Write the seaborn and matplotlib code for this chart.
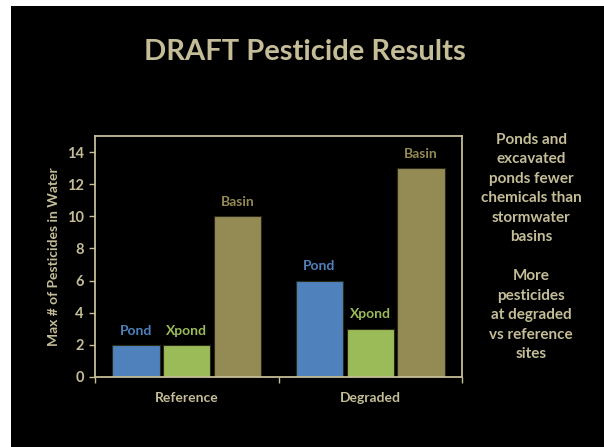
import matplotlib
matplotlib.use("Agg")
import matplotlib.pyplot as plt
import seaborn as sns
import pandas as pd
from matplotlib.patches import Rectangle

sites = ["Reference", "Degraded"]
types = ["Pond", "Xpond", "Basin"]
pond_vals = [2, 6]
xpond_vals = [2, 3]
basin_vals = [10, 13]
yticks = [0, 2, 4, 6, 8, 10, 12, 14]
title = "DRAFT Pesticide Results"
ylabel = "Max # of Pesticides in Water"
note = ("Ponds and\nexcavated\nponds fewer\nchemicals than\nstormwater\nbasins\n\n"
        "More\npesticides\nat degraded\nvs reference\nsites")

colors = {"Pond": "#4F81BD", "Xpond": "#9BBB59", "Basin": "#948A54"}
beige = "#C4BD97"

rows = []
for t, vals in zip(types, [pond_vals, xpond_vals, basin_vals]):
    for s, v in zip(sites, vals):
        rows.append({"site": s, "type": t, "count": v})
df = pd.DataFrame(rows)

sns.set_style("white")
plt.rcParams["font.family"] = ["Lato", "DejaVu Sans"]
plt.rcParams["font.weight"] = "bold"

fig = plt.figure(figsize=(6.04, 4.47), dpi=100)
fig.patch.set_facecolor("white")
fig.patches.append(Rectangle((11 / 604, 0), 1 - 11 / 604, 1 - 6 / 447,
                             transform=fig.transFigure, facecolor="black",
                             edgecolor="none", zorder=-10))

ax = fig.add_axes([95 / 604, 70 / 447, (462 - 95) / 604, (377 - 136) / 447])
ax.set_facecolor("black")

sns.barplot(data=df, x="site", y="count", hue="type", order=sites, hue_order=types,
            palette=colors, width=0.83, gap=0.07, ax=ax, legend=False,
            edgecolor="#2a2a1a", linewidth=0.8, saturation=1)

for cont, t in zip(ax.containers, types):
    ax.bar_label(cont, labels=[t] * len(cont), padding=6, color=colors[t],
                 fontsize=10, fontweight="bold")

ax.set_ylim(0, 15)
ax.set_xlim(-0.5, 1.5)
ax.set_yticks(yticks)
ax.set_yticklabels([str(v) for v in yticks])
ax.set_xticks([-0.5, 0.5, 1.5])
ax.set_xticklabels([])
ax.set_xticks([0, 1], minor=True)
ax.set_xticklabels(sites, minor=True)
ax.tick_params(axis="x", which="minor", length=0, pad=11, labelsize=10, labelcolor=beige)
ax.tick_params(axis="x", which="major", length=4, width=1, color=beige, direction="out", bottom=True)
ax.tick_params(axis="y", length=4, width=1, color=beige, direction="out", left=True,
               labelsize=10.5, labelcolor=beige, pad=4)
for lab in ax.get_yticklabels() + ax.get_xticklabels(minor=True):
    lab.set_fontweight("bold")

for sp in ax.spines.values():
    sp.set_color(beige)
    sp.set_linewidth(1.3)
    sp.set_visible(True)

ax.set_xlabel("")
ax.set_ylabel(ylabel, color=beige, fontsize=10, fontweight="bold", labelpad=5)

fig.text(305 / 604, 1 - 52 / 447, title, ha="center", va="center", color=beige,
         fontsize=21, fontweight="bold")
fig.text(531 / 604, 1 - 247 / 447, note, ha="center", va="center", color=beige,
         fontsize=11, fontweight="bold", linespacing=1.5)

fig.savefig("out.png", dpi=100, facecolor=fig.get_facecolor())
